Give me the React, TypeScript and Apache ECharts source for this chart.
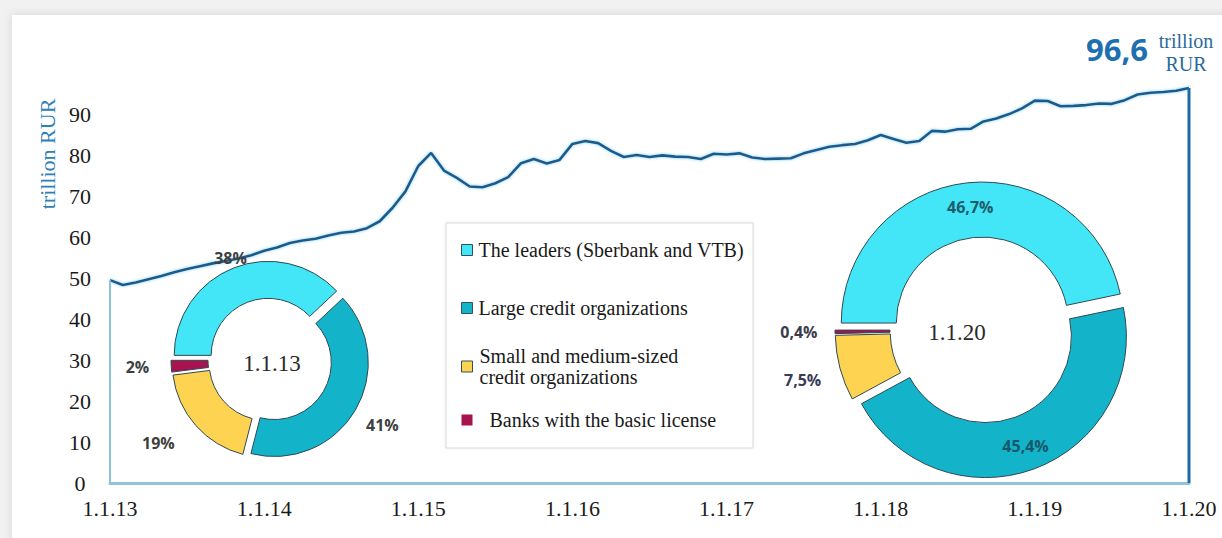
import React, { useEffect, useRef } from 'react';
import * as echarts from 'echarts';

// ---- data ----
const xTickLabels = ['1.1.13', '1.1.14', '1.1.15', '1.1.16', '1.1.17', '1.1.18', '1.1.19', '1.1.20'];
const yTicks = [0, 10, 20, 30, 40, 50, 60, 70, 80, 90];
// banking sector assets, trillion RUR, monthly 1.1.13 .. 1.1.20
const assets = [
  49.6, 48.4, 49.0, 49.8, 50.6, 51.5, 52.3, 53.0, 53.7, 54.3, 54.9, 55.7,
  56.8, 57.6, 58.7, 59.3, 59.7, 60.5, 61.2, 61.5, 62.3, 64.0, 67.3, 71.3,
  77.5, 80.7, 76.4, 74.6, 72.5, 72.3, 73.3, 74.8, 78.2, 79.2, 78.1, 79.0,
  82.9, 83.6, 83.1, 81.2, 79.7, 80.2, 79.7, 80.1, 79.8, 79.7, 79.2, 80.5,
  80.3, 80.6, 79.6, 79.2, 79.3, 79.4, 80.6, 81.4, 82.2, 82.6, 82.9, 83.8,
  85.1, 84.1, 83.2, 83.6, 86.1, 85.9, 86.5, 86.6, 88.4, 89.1, 90.2, 91.6,
  93.5, 93.4, 92.1, 92.2, 92.4, 92.8, 92.7, 93.6, 95.0, 95.4, 95.6, 95.9,
  96.6,
];
const segmentNames = [
  'The leaders (Sberbank and VTB)',
  'Large credit organizations',
  'Small and medium-sized credit organizations',
  'Banks with the basic license',
];
const share2013 = [38, 41, 19, 2];
const share2020 = [46.7, 45.4, 7.5, 0.4];
const shareLabels2013 = ['38%', '41%', '19%', '2%'];
const shareLabels2020 = ['46,7%', '45,4%', '7,5%', '0,4%'];
const pieDates = ['1.1.13', '1.1.20'];

// ---- styles ----
const segmentColors = ['#42e6f6', '#13b4ca', '#ffd352', '#a8124f'];
const serif = '"Liberation Serif", "Times New Roman", serif';
const sans = '"Open Sans", "Liberation Sans", sans-serif';

const labelBase = { fontFamily: sans, fontWeight: 'bold', fontSize: 16, color: '#404040' };

const tune2013 = [
  { len: 10.7, dist: -17.3, padding: [0, 0, 0, 0] },
  { len: 28.8, dist: -14, padding: [0, 0, 0, 0] },
  { len: 26.6, dist: 1, padding: [0, 0, 0, 0] },
  { len: 10, dist: 12, padding: [12, 0, 0, 0] },
];
const tune2020 = [
  { pos: 'inside', color: '#1c5d6c' },
  { pos: 'inside', color: '#17596a' },
  { pos: 'outside', len: 46, dist: -25.7, padding: [0, 0, 0, 0], color: '#3b3b58' },
  { pos: 'outside', len: 10, dist: 7.5, padding: [0, 0, 8, 0], color: '#3b3b4a' },
];

function pieData(values: number[], labels: string[], tune: any[]) {
  return values.map((v, i) => {
    const t = tune[i];
    const pos = t.pos || 'outside';
    return {
      name: segmentNames[i],
      value: v,
      selected: true,
      itemStyle: { color: segmentColors[i] },
      label: {
        show: true,
        position: pos,
        formatter: labels[i],
        distanceToLabelLine: t.dist ?? 5,
        padding: t.padding ?? 0,
        ...labelBase,
        color: t.color || labelBase.color,
      },
      labelLine: { show: false, length: t.len ?? 10, length2: 0 },
    };
  });
}

export default function App() {
  const ref = useRef<HTMLDivElement>(null);
  useEffect(() => {
    if (!ref.current) return;
    const chart = echarts.init(ref.current, undefined, { renderer: 'svg' });
    const last = assets[assets.length - 1];
    const lastIdx = assets.length - 1;
    const pieCommon = {
      type: 'pie',
      startAngle: 180,
      clockwise: true,
      selectedMode: 'multiple',
      avoidLabelOverlap: false,
      z: 3,
      emphasis: { disabled: true },
      itemStyle: { borderColor: '#2f4a55', borderWidth: 1 },
    };
    const legendTops = [240, 298, 335, 410];
    chart.setOption({
      animation: false,
      graphic: [
        {
          type: 'rect', z: -10,
          shape: { x: 12, y: 15, width: 1215, height: 530 },
          style: { fill: '#ffffff', shadowBlur: 8, shadowColor: 'rgba(0,0,0,0.12)' },
        },
        {
          type: 'rect', z: 1,
          shape: { x: 446, y: 223, width: 307, height: 225 },
          style: { fill: '#ffffff', stroke: '#d9d9d9', lineWidth: 1, shadowBlur: 3, shadowColor: 'rgba(0,0,0,0.08)' },
        },
        {
          type: 'text', z: 10, x: 47, y: 154, rotation: Math.PI / 2,
          style: { text: 'trillion RUR', font: `22px ${serif}`, fill: '#2e80b8', align: 'center', verticalAlign: 'middle' },
        },
        {
          type: 'text', z: 10, x: 272, y: 363,
          style: { text: pieDates[0], font: `23px ${serif}`, fill: '#2a2a2a', align: 'center', verticalAlign: 'middle' },
        },
        {
          type: 'text', z: 10, x: 957, y: 332,
          style: { text: pieDates[1], font: `23px ${serif}`, fill: '#2a2a2a', align: 'center', verticalAlign: 'middle' },
        },
        {
          type: 'text', z: 10, x: 1148, y: 49,
          style: { text: String(last).replace('.', ','), font: `bold 31px ${sans}`, fill: '#1d6fb0', align: 'right', verticalAlign: 'middle' },
        },
        {
          type: 'text', z: 10, x: 1186, y: 41,
          style: { text: 'trillion', font: `20px ${serif}`, fill: '#2a6a9c', align: 'center', verticalAlign: 'middle' },
        },
        {
          type: 'text', z: 10, x: 1186, y: 64,
          style: { text: 'RUR', font: `20px ${serif}`, fill: '#2a6a9c', align: 'center', verticalAlign: 'middle' },
        },
      ],
      legend: segmentNames.map((name, i) => ({
        data: [name],
        left: 461,
        top: legendTops[i],
        orient: 'vertical',
        padding: 0,
        itemWidth: 11,
        itemHeight: 11,
        icon: 'rect',
        selectedMode: false,
        z: 5,
        itemStyle: { borderColor: i === 3 ? 'rgba(0,0,0,0)' : '#34505c', borderWidth: 1 },
        formatter: (n: string) => n.replace('medium-sized ', 'medium-sized\n'),
        textStyle: {
          fontFamily: serif,
          fontSize: 20,
          color: '#1a1a1a',
          lineHeight: i === 2 ? 21 : 20,
          padding: i === 2 ? [21, 0, 0, 2] : i === 3 ? [0, 0, 0, 12] : [0, 0, 0, 1],
        },
      })),
      grid: { left: 110, right: 33, top: 74, bottom: 55 },
      xAxis: {
        type: 'value', min: 0, max: 84, interval: 12,
        axisLine: { lineStyle: { color: '#8ec3da', width: 3 } },
        axisTick: { show: false },
        splitLine: { show: false },
        axisLabel: {
          formatter: (v: number) => xTickLabels[Math.round(v / 12)] ?? '',
          fontFamily: serif, fontSize: 22, color: '#1a1a1a', margin: 14,
        },
      },
      yAxis: {
        type: 'value', min: 0, max: 100, interval: 10,
        axisLine: { show: false },
        axisTick: { show: false },
        splitLine: { show: false },
        axisLabel: {
          formatter: (v: number) => (yTicks.includes(v) ? String(v) : ''),
          fontFamily: serif, fontSize: 22, color: '#1a1a1a', align: 'center', margin: 30,
        },
      },
      series: [
        {
          type: 'line', name: 'assets', symbol: 'none', z: 2,
          data: assets.map((v, i) => [i, v]),
          lineStyle: { color: '#1d5a8b', width: 2.6, shadowColor: 'rgba(110,200,235,0.9)', shadowBlur: 3 },
        },
        {
          type: 'line', symbol: 'none', z: 2,
          data: [[0, 0], [0, assets[0]]],
          lineStyle: { color: '#8ec3da', width: 2 },
        },
        {
          type: 'line', symbol: 'none', z: 2,
          data: [[lastIdx, 0], [lastIdx, last]],
          lineStyle: { color: '#1d6aa8', width: 3 },
        },
        {
          ...pieCommon,
          name: pieDates[0],
          center: [270, 360],
          radius: [57, 94],
          selectedOffset: 5,
          data: pieData(share2013, shareLabels2013, tune2013),
        },
        {
          ...pieCommon,
          name: pieDates[1],
          center: [983, 330],
          radius: [86, 141],
          selectedOffset: 7,
          data: pieData(share2020, shareLabels2020, tune2020),
        },
      ],
    });
    return () => chart.dispose();
  }, []);
  return (
    <div style={{ position: 'absolute', left: 0, top: 0, width: 1222, height: 538, background: '#f1f1f1' }}>
      <div ref={ref} style={{ width: 1222, height: 538 }} />
    </div>
  );
}
